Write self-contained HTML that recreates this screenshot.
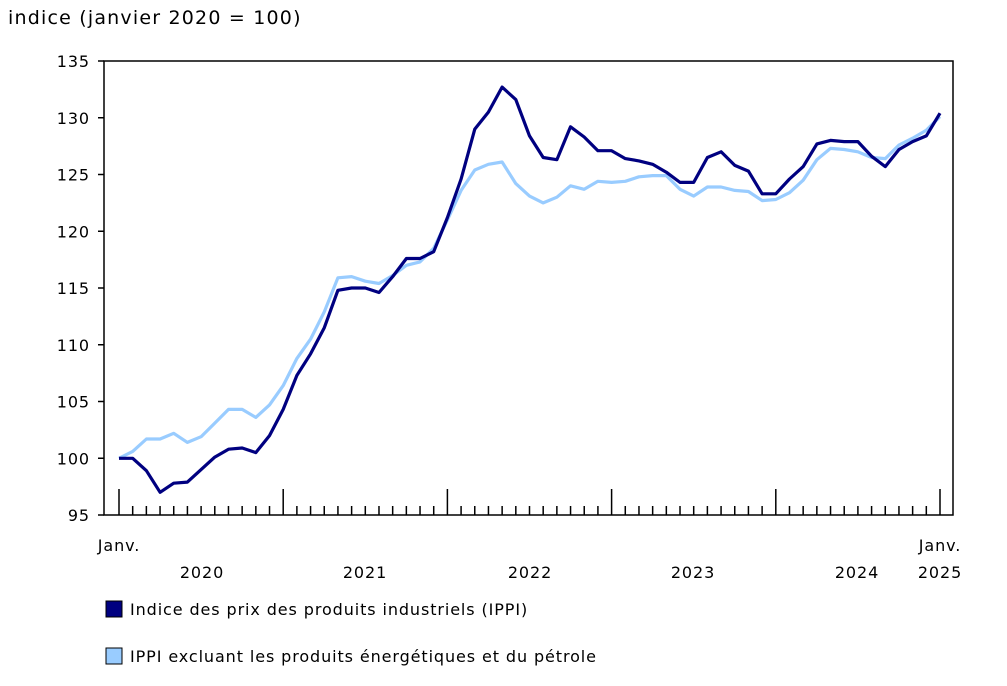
<!DOCTYPE html>
<html><head><meta charset="utf-8"><style>
body{margin:0;background:#fff;}
svg text{font-family:"DejaVu Sans","Liberation Sans",sans-serif;font-size:16px;fill:#000;letter-spacing:0.9px;}
</style></head><body>
<svg id="s" width="1007" height="681" xmlns="http://www.w3.org/2000/svg">
<text x="8" y="24" style="font-size:19px;letter-spacing:1.2px">indice (janvier 2020 = 100)</text>
<rect x="104" y="61" width="849" height="454" fill="none" stroke="#000" stroke-width="1.5"/>
<g id="g"></g>
<text x="119" y="551" text-anchor="middle">Janv.</text>
<text x="940" y="551" text-anchor="middle">Janv.</text>
<text x="202" y="578" text-anchor="middle">2020</text>
<text x="365" y="578" text-anchor="middle">2021</text>
<text x="530" y="578" text-anchor="middle">2022</text>
<text x="693" y="578" text-anchor="middle">2023</text>
<text x="857" y="578" text-anchor="middle">2024</text>
<text x="940" y="578" text-anchor="middle">2025</text>
<rect x="106" y="601" width="16" height="16" fill="#000080" stroke="#000" stroke-width="1"/>
<text x="130" y="615">Indice des prix des produits industriels (IPPI)</text>
<rect x="106" y="648" width="16" height="16" fill="#99ccff" stroke="#000" stroke-width="1"/>
<text x="130" y="662">IPPI excluant les produits énergétiques et du pétrole</text>
</svg>
<script>
var d=[100,100,98.9,97,97.8,97.9,99,100.1,100.8,100.9,100.5,102,104.3,107.3,109.2,111.5,114.8,115,115,114.6,116,117.6,117.6,118.2,121.2,124.6,129,130.5,132.7,131.6,128.4,126.5,126.3,129.2,128.3,127.1,127.1,126.4,126.2,125.9,125.2,124.3,124.3,126.5,127,125.8,125.3,123.3,123.3,124.6,125.7,127.7,128,127.9,127.9,126.6,125.7,127.2,127.9,128.4,130.4];
var l=[100,100.6,101.7,101.7,102.2,101.4,101.9,103.1,104.3,104.3,103.6,104.7,106.4,108.8,110.5,112.9,115.9,116,115.6,115.4,116.1,117,117.3,118.5,121,123.6,125.4,125.9,126.1,124.2,123.1,122.5,123,124,123.7,124.4,124.3,124.4,124.8,124.9,124.9,123.7,123.1,123.9,123.9,123.6,123.5,122.7,122.8,123.4,124.5,126.3,127.3,127.2,127,126.5,126.4,127.6,128.2,128.9,130.1];
var X=function(i){return 119+i*(821/60)},Y=function(v){return 61+(135-v)*454/40};
var h='';
for(var v=95;v<=135;v+=5){h+='<line x1="98" x2="104" y1="'+Y(v)+'" y2="'+Y(v)+'" stroke="#000" stroke-width="1.5"/><text x="90" y="'+(Y(v)+6)+'" text-anchor="end">'+v+'</text>';}
for(var i=0;i<=60;i++){var x=X(i);h+='<line x1="'+x+'" x2="'+x+'" y1="'+(i%12==0?489:506)+'" y2="515" stroke="#000" stroke-width="1.5"/>';}
function p(a,c){return '<polyline fill="none" stroke="'+c+'" stroke-width="3.2" stroke-linejoin="round" points="'+a.map(function(v,i){return X(i).toFixed(1)+','+Y(v).toFixed(1)}).join(' ')+'"/>';}
h+=p(l,'#99ccff')+p(d,'#000080');
document.getElementById('g').innerHTML=h;
</script>
</body></html>
